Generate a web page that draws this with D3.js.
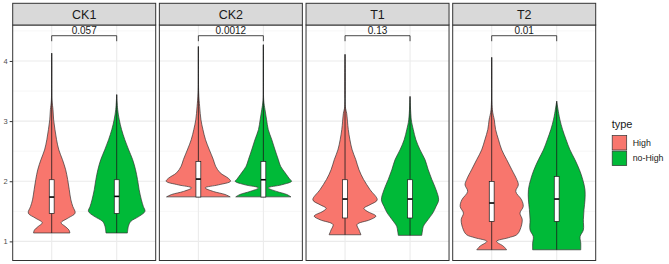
<!DOCTYPE html>
<html><head><meta charset="utf-8">
<script src="https://cdn.jsdelivr.net/npm/d3@7"></script>
<style>html,body{margin:0;padding:0;background:#fff;} svg{display:block;font-family:"Liberation Sans",Arial,Helvetica,sans-serif;}</style>
</head><body><svg id="chart" width="669" height="264"></svg>
<script>
// ---------- data ----------
const groups = ["CK1", "CK2", "T1", "T2"];
const types = ["High", "no-High"];
const pValues = ["0.057", "0.0012", "0.13", "0.01"];
const bracketY = 4.42;
const yTicks = [1, 2, 3, 4];
const typeColors = ["#F8766D", "#00BA38"];

// violin profiles: [value, relative density]
const ck1High = [[1.14,0.56],[1.19,0.53],[1.25,0.41],[1.31,0.29],[1.39,0.51],[1.47,0.72],[1.58,0.65],[1.69,0.59],[1.86,0.54],[2.03,0.49],[2.19,0.43],[2.36,0.33],[2.52,0.22],[2.69,0.15],[2.86,0.10],[3.02,0.06],[3.19,0.04],[3.35,0.01],[4.13,0]];
const ck1NoHigh = [[1.14,0.33],[1.25,0.36],[1.33,0.43],[1.42,0.70],[1.50,0.87],[1.58,0.82],[1.69,0.76],[1.86,0.69],[2.03,0.64],[2.19,0.58],[2.36,0.49],[2.52,0.37],[2.69,0.25],[2.86,0.15],[3.02,0.08],[3.19,0.03],[3.44,0]];
const ck2High = [[1.74,0.98],[1.78,0.82],[1.83,0.46],[1.89,0.21],[1.94,0.62],[2.00,0.99],[2.05,0.92],[2.14,0.67],[2.25,0.53],[2.36,0.46],[2.52,0.34],[2.69,0.22],[2.86,0.14],[3.02,0.08],[3.24,0.04],[3.47,0.01],[4.24,0]];
const ck2NoHigh = [[1.74,0.85],[1.78,0.72],[1.83,0.41],[1.89,0.15],[1.94,0.56],[2.00,0.87],[2.03,0.82],[2.14,0.67],[2.25,0.53],[2.36,0.46],[2.52,0.36],[2.69,0.26],[2.86,0.15],[3.02,0.10],[3.19,0.05],[3.35,0.01],[4.27,0]];
const t1High = [[1.11,0.49],[1.19,0.43],[1.28,0.37],[1.36,0.77],[1.42,0.95],[1.50,0.68],[1.55,0.58],[1.61,0.77],[1.69,0.99],[1.86,0.77],[2.03,0.57],[2.19,0.43],[2.36,0.33],[2.52,0.22],[2.69,0.15],[2.86,0.10],[3.13,0.05],[3.24,0.01],[4.11,0]];
const t1NoHigh = [[1.10,0.36],[1.17,0.38],[1.25,0.41],[1.36,0.55],[1.47,0.70],[1.58,0.80],[1.69,0.88],[1.86,0.80],[2.03,0.67],[2.19,0.56],[2.36,0.46],[2.52,0.31],[2.69,0.18],[2.86,0.10],[3.02,0.04],[3.41,0]];
const t2High = [[0.86,0.46],[0.92,0.36],[1.00,0.15],[1.06,0.51],[1.11,0.77],[1.19,0.87],[1.36,0.94],[1.47,0.87],[1.58,0.97],[1.69,0.92],[1.83,0.74],[1.94,0.82],[2.03,0.77],[2.19,0.62],[2.36,0.46],[2.52,0.31],[2.69,0.21],[2.86,0.12],[3.02,0.08],[3.19,0.02],[4.06,0]];
const t2NoHigh = [[0.86,0.74],[0.97,0.74],[1.08,0.72],[1.19,0.82],[1.36,0.82],[1.53,0.84],[1.69,0.87],[1.86,0.87],[2.03,0.80],[2.19,0.70],[2.36,0.56],[2.52,0.41],[2.69,0.29],[2.86,0.18],[3.02,0.10],[3.13,0.06],[3.33,0]];

// box statistics per group (CK1, CK2, T1, T2)
const q1High = [1.465, 1.737, 1.389, 1.333];
const medHigh = [1.737, 2.036, 1.704, 1.638];
const q3High = [2.025, 2.33, 2.025, 1.997];
const q1NoHigh = [1.465, 1.737, 1.389, 1.333];
const medNoHigh = [1.748, 2.025, 1.704, 1.704];
const q3NoHigh = [2.025, 2.33, 2.025, 2.08];

const profiles = [[ck1High, ck1NoHigh], [ck2High, ck2NoHigh], [t1High, t1NoHigh], [t2High, t2NoHigh]];
const q1s = [q1High, q1NoHigh], meds = [medHigh, medNoHigh], q3s = [q3High, q3NoHigh];

// ---------- layout ----------
const svg = d3.select("#chart");
const stripTop = 3.3, panelTop = 25, panelBottom = 260.5;
const facet = d3.scaleBand().domain(groups).range([12.7, 595.7]).paddingInner(0.025);

const allVals = profiles.flat(2).map(d => d[0]).concat([bracketY]);
const [ymin, ymax] = d3.extent(allVals);
const ypad = (ymax - ymin) * 0.05;
const y = d3.scaleLinear().domain([ymin - ypad, ymax + ypad]).range([panelBottom, panelTop]);
const [d0, d1] = y.domain();
const minorTicks = d3.range(0.5, 5, 1).filter(v => v > d0 && v < d1);

groups.forEach((g, gi) => {
  const px0 = facet(g), pw = facet.bandwidth();
  const x = d3.scalePoint().domain(types).range([px0, px0 + pw]).padding(0.6);
  const unit = x.step();
  const hw = unit * 0.5;
  const G = svg.append("g");

  G.append("rect").attr("x", px0).attr("y", panelTop).attr("width", pw).attr("height", panelBottom - panelTop).attr("fill", "#fff");
  // grid
  G.selectAll(".ymin").data(minorTicks).join("line")
    .attr("x1", px0).attr("x2", px0 + pw).attr("y1", d => y(d)).attr("y2", d => y(d))
    .attr("stroke", "#F0F0F0").attr("stroke-width", 0.6);
  G.selectAll(".ymaj").data(yTicks).join("line")
    .attr("x1", px0).attr("x2", px0 + pw).attr("y1", d => y(d)).attr("y2", d => y(d))
    .attr("stroke", "#EBEBEB").attr("stroke-width", 1.1);
  G.selectAll(".xmaj").data(types).join("line")
    .attr("x1", d => x(d)).attr("x2", d => x(d)).attr("y1", panelTop).attr("y2", panelBottom)
    .attr("stroke", "#EBEBEB").attr("stroke-width", 1.1);

  types.forEach((t, ti) => {
    const cx = x(t);
    const prof = profiles[gi][ti];
    const area = d3.area().curve(d3.curveCatmullRom.alpha(0.5))
      .y(d => y(d[0])).x0(d => cx - d[1] * hw).x1(d => cx + d[1] * hw);
    G.append("path").attr("d", area(prof)).attr("fill", typeColors[ti])
      .attr("stroke", "#333333").attr("stroke-width", 0.7).attr("stroke-linejoin", "round");
    const bottom = prof[0][0], top = prof[prof.length - 1][0];
    const q1 = q1s[ti][gi], md = meds[ti][gi], q3 = q3s[ti][gi];
    G.append("line").attr("x1", cx).attr("x2", cx).attr("y1", y(top)).attr("y2", y(q3)).attr("stroke", "#1a1a1a").attr("stroke-width", 0.8);
    G.append("line").attr("x1", cx).attr("x2", cx).attr("y1", y(q1)).attr("y2", y(bottom)).attr("stroke", "#1a1a1a").attr("stroke-width", 0.8);
    const bw = unit * 0.075;
    G.append("rect").attr("x", cx - bw / 2).attr("y", y(q3)).attr("width", bw).attr("height", y(q1) - y(q3))
      .attr("fill", "#fff").attr("stroke", "#1a1a1a").attr("stroke-width", 0.7);
    G.append("line").attr("x1", cx - bw / 2).attr("x2", cx + bw / 2).attr("y1", y(md)).attr("y2", y(md))
      .attr("stroke", "#000").attr("stroke-width", 1.6);
  });

  // bracket
  const xa = x(types[0]), xb = x(types[1]), by = y(bracketY);
  G.append("path").attr("d", `M${xa},${by + 5.5}V${by}H${xb}V${by + 5.5}`)
    .attr("fill", "none").attr("stroke", "#1a1a1a").attr("stroke-width", 0.8);
  G.append("text").attr("x", (xa + xb) / 2).attr("y", by - 2.2).attr("text-anchor", "middle")
    .attr("font-size", 10).attr("fill", "#1a1a1a").text(pValues[gi]);

  // border
  G.append("rect").attr("x", px0).attr("y", panelTop).attr("width", pw).attr("height", panelBottom - panelTop)
    .attr("fill", "none").attr("stroke", "#333333").attr("stroke-width", 1);
  // strip
  G.append("rect").attr("x", px0).attr("y", stripTop).attr("width", pw).attr("height", panelTop - stripTop)
    .attr("fill", "#D9D9D9").attr("stroke", "#333333").attr("stroke-width", 1);
  G.append("text").attr("x", px0 + pw / 2).attr("y", (stripTop + panelTop) / 2 + 4.4).attr("text-anchor", "middle")
    .attr("font-size", 12.5).attr("fill", "#1a1a1a").text(g);
});

// y axis
const ax = svg.append("g").attr("transform", `translate(${facet(groups[0])},0)`)
  .call(d3.axisLeft(y).tickValues(yTicks).tickSize(3).tickPadding(2).tickFormat(d3.format("d")));
ax.select(".domain").remove();
ax.selectAll(".tick line").attr("stroke", "#333333");
ax.selectAll(".tick text").attr("fill", "#4D4D4D").attr("font-size", 7.5).attr("font-family", "Liberation Sans, Arial, sans-serif");

// legend
const lg = svg.append("g").attr("transform", "translate(611.7,0)");
lg.append("text").attr("x", 0).attr("y", 128).attr("font-size", 11).attr("fill", "#1a1a1a").text("type");
types.forEach((t, i) => {
  const ky = 135 + i * 15.6;
  lg.append("rect").attr("x", 0.5).attr("y", ky + 0.5).attr("width", 14.5).attr("height", 14.5)
    .attr("fill", typeColors[i]).attr("stroke", "#333333").attr("stroke-width", 0.7);
  lg.append("text").attr("x", 21).attr("y", ky + 7.8).attr("dy", "0.35em").attr("font-size", 8.8).attr("fill", "#1a1a1a").text(t);
});
</script></body></html>
